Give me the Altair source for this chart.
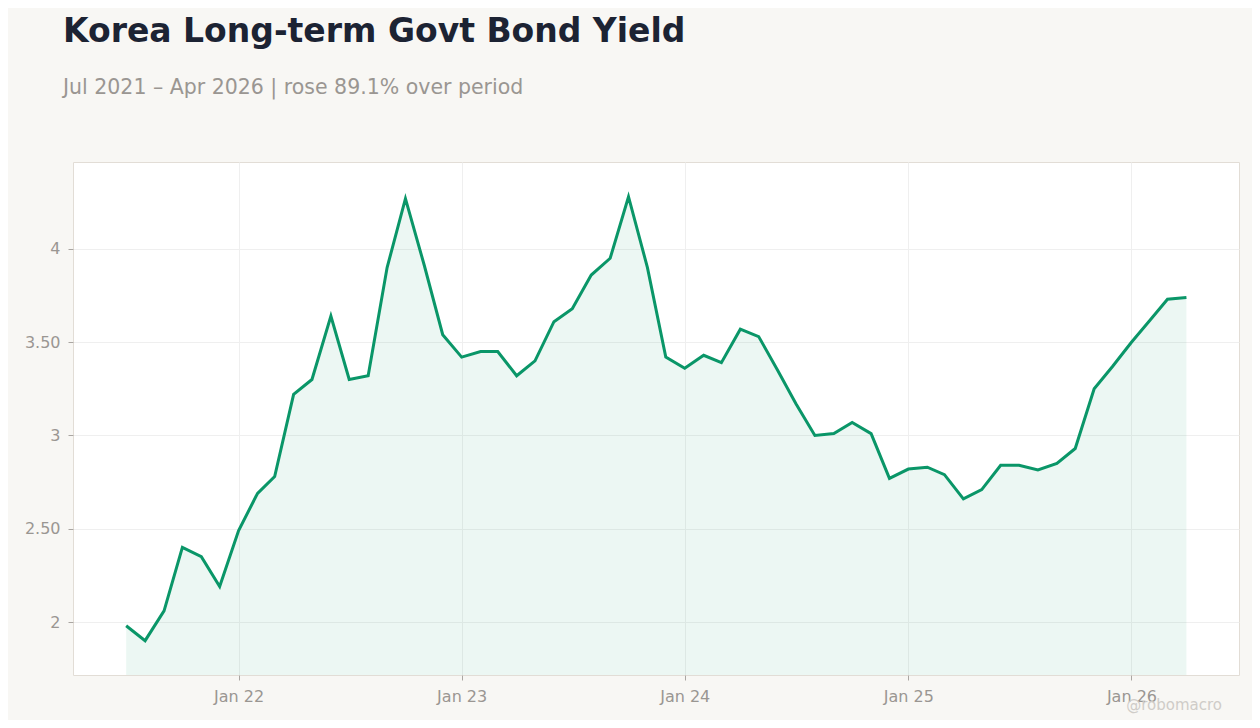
import altair as alt
import pandas as pd

# monthly readings, Jul 2021 .. Apr 2026
months = pd.date_range("2021-07-01", "2026-04-01", freq="MS").strftime("%Y-%m-%d").tolist()
yields = [
    1.98, 1.90, 2.06, 2.40, 2.35, 2.19,                                      # 2021 Jul-Dec
    2.49, 2.69, 2.78, 3.22, 3.30, 3.64, 3.30, 3.32, 3.90, 4.27, 3.91, 3.54,  # 2022
    3.42, 3.45, 3.45, 3.32, 3.40, 3.61, 3.68, 3.86, 3.95, 4.28, 3.90, 3.42,  # 2023
    3.36, 3.43, 3.39, 3.57, 3.53, 3.35, 3.17, 3.00, 3.01, 3.07, 3.01, 2.77,  # 2024
    2.82, 2.83, 2.79, 2.66, 2.71, 2.84, 2.84, 2.815, 2.85, 2.93, 3.25, 3.37, # 2025
    3.50, 3.62, 3.73, 3.74,                                                  # 2026 Jan-Apr
]
tick_values = [2, 2.5, 3, 3.5, 4]
year_ticks = [2022, 2023, 2024, 2025, 2026]

df = pd.DataFrame({"date": months, "value": yields})

GREEN = "#0a9668"
GREY = "#9a9692"
BG = "#f8f7f4"

x = alt.X(
    "date:T",
    scale=alt.Scale(
        type="utc",
        domain=[alt.DateTime(year=2021, month=4, date=5, utc=True),
                alt.DateTime(year=2026, month=6, date=26, utc=True)],
    ),
    axis=alt.Axis(
        title=None,
        values=[alt.DateTime(year=y, month=1, date=1, utc=True) for y in year_ticks],
        labelExpr="utcFormat(datum.value, '%b %y')",
        labelPadding=8,
    ),
)
y = alt.Y(
    "value:Q",
    scale=alt.Scale(domain=[1.716, 4.466], nice=False, zero=False),
    axis=alt.Axis(
        title=None,
        values=tick_values,
        labelExpr="datum.value % 1 == 0 ? format(datum.value, 'd') : format(datum.value, '.2f')",
        labelPadding=8,
    ),
)

base = alt.Chart(df)
area = base.mark_area(color=GREEN, opacity=0.08, clip=True).encode(x=x, y=y)
line = base.mark_line(color=GREEN, strokeWidth=3).encode(x=x, y=y)

mark = alt.Chart(pd.DataFrame({"t": ["@robomacro"]})).mark_text(
    align="right", baseline="middle", fontSize=15, color="#cfccc8", font="DejaVu Sans"
).encode(x=alt.value(1149), y=alt.value(543), text="t:N")

chart = (
    alt.layer(area, line, mark)
    .properties(
        width=1166,
        height=513,
        background=BG,
        padding={"left": 65, "top": 154, "right": 13, "bottom": 45},
        autosize=alt.AutoSizeParams(type="none"),
        usermeta={"embedOptions": {"defaultStyle": "body { background: %s; }" % BG}},
        title=alt.TitleParams(
            text="Korea Long-term Govt Bond Yield",
            subtitle="Jul 2021 – Apr 2026 | rose 89.1% over period",
            anchor="start",
            frame="group",
            dx=-10,
            offset=64,
            font="DejaVu Sans",
            fontSize=33,
            fontWeight="bold",
            color="#1c2333",
            subtitleFont="DejaVu Sans",
            subtitleFontSize=20.5,
            subtitleColor=GREY,
            subtitlePadding=29,
        ),
    )
    .configure_view(fill="white", stroke="#e2ddd6", strokeWidth=1)
    .configure_axis(
        domain=False,
        grid=True,
        gridColor="#efefef",
        gridWidth=1,
        tickColor="#aaa6a2",
        tickSize=5,
        labelColor=GREY,
        labelFont="DejaVu Sans",
        labelFontSize=16,
    )
)

chart.save("out.html", embed_options={"renderer": "svg", "actions": False})
